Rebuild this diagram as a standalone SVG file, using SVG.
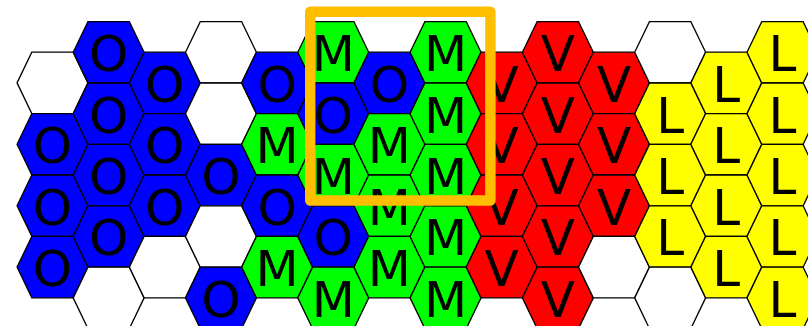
<svg xmlns="http://www.w3.org/2000/svg" xmlns:xlink="http://www.w3.org/1999/xlink" width="808" height="326" viewBox="0 0 808 326">
<style>
.h{stroke:#000;stroke-width:1.3;stroke-linejoin:miter}
.w{fill:#fff}.b{fill:#0000ff}.g{fill:#00ff00}.r{fill:#ff0000}.y{fill:#ffff00}
text{font-family:"DejaVu Sans",Verdana,sans-serif;font-size:50px;fill:#000;text-anchor:middle}
.box{fill:none;stroke:#ffbf00;stroke-width:10.4;stroke-linejoin:round}
</style>
<defs>
<polygon id="hex" class="h" points="-35.45,0 -20.7,-30.7 20.7,-30.7 35.45,0 20.7,30.7 -20.7,30.7"/>
</defs>
<rect width="808" height="326" fill="#fff"/>
<g id="nodes">
<g id="c0r0"><use href="#hex" x="52.5" y="82.9" class="w"/></g>
<g id="c0r1"><use href="#hex" x="52.5" y="144.3" class="b"/><text x="52.5" y="163.1">O</text></g>
<g id="c0r2"><use href="#hex" x="52.5" y="205.7" class="b"/><text x="52.5" y="224.5">O</text></g>
<g id="c0r3"><use href="#hex" x="52.5" y="267.1" class="b"/><text x="52.5" y="285.9">O</text></g>

<g id="c1r0"><use href="#hex" x="108.65" y="52.3" class="b"/><text x="108.65" y="71.1">O</text></g>
<g id="c1r1"><use href="#hex" x="108.65" y="113.7" class="b"/><text x="108.65" y="132.5">O</text></g>
<g id="c1r2"><use href="#hex" x="108.65" y="175.1" class="b"/><text x="108.65" y="193.9">O</text></g>
<g id="c1r3"><use href="#hex" x="108.65" y="236.5" class="b"/><text x="108.65" y="255.3">O</text></g>
<g id="c1r4"><use href="#hex" x="108.65" y="297.9" class="w"/></g>

<g id="c2r0"><use href="#hex" x="164.8" y="82.9" class="b"/><text x="164.8" y="101.7">O</text></g>
<g id="c2r1"><use href="#hex" x="164.8" y="144.3" class="b"/><text x="164.8" y="163.1">O</text></g>
<g id="c2r2"><use href="#hex" x="164.8" y="205.7" class="b"/><text x="164.8" y="224.5">O</text></g>
<g id="c2r3"><use href="#hex" x="164.8" y="267.1" class="w"/></g>

<g id="c3r0"><use href="#hex" x="220.95" y="52.3" class="w"/></g>
<g id="c3r1"><use href="#hex" x="220.95" y="113.7" class="w"/></g>
<g id="c3r2"><use href="#hex" x="220.95" y="175.1" class="b"/><text x="220.95" y="193.9">O</text></g>
<g id="c3r3"><use href="#hex" x="220.95" y="236.5" class="w"/></g>
<g id="c3r4"><use href="#hex" x="220.95" y="297.9" class="b"/><text x="220.95" y="316.7">O</text></g>

<g id="c4r0"><use href="#hex" x="277.1" y="82.9" class="b"/><text x="277.1" y="101.7">O</text></g>
<g id="c4r1"><use href="#hex" x="277.1" y="144.3" class="g"/><text x="277.1" y="163.1">M</text></g>
<g id="c4r2"><use href="#hex" x="277.1" y="205.7" class="b"/><text x="277.1" y="224.5">O</text></g>
<g id="c4r3"><use href="#hex" x="277.1" y="267.1" class="g"/><text x="277.1" y="285.9">M</text></g>

<g id="c5r0"><use href="#hex" x="333.25" y="52.3" class="g"/><text x="333.25" y="71.1">M</text></g>
<g id="c5r1"><use href="#hex" x="333.25" y="113.7" class="b"/><text x="333.25" y="132.5">O</text></g>
<g id="c5r2"><use href="#hex" x="333.25" y="175.1" class="g"/><text x="333.25" y="193.9">M</text></g>
<g id="c5r3"><use href="#hex" x="333.25" y="236.5" class="b"/><text x="333.25" y="255.3">O</text></g>
<g id="c5r4"><use href="#hex" x="333.25" y="297.9" class="g"/><text x="333.25" y="316.7">M</text></g>

<g id="c6r0"><use href="#hex" x="389.4" y="82.9" class="b"/><text x="389.4" y="101.7">O</text></g>
<g id="c6r1"><use href="#hex" x="389.4" y="144.3" class="g"/><text x="389.4" y="163.1">M</text></g>
<g id="c6r2"><use href="#hex" x="389.4" y="205.7" class="g"/><text x="389.4" y="224.5">M</text></g>
<g id="c6r3"><use href="#hex" x="389.4" y="267.1" class="g"/><text x="389.4" y="285.9">M</text></g>

<g id="c7r0"><use href="#hex" x="445.55" y="52.3" class="g"/><text x="445.55" y="71.1">M</text></g>
<g id="c7r1"><use href="#hex" x="445.55" y="113.7" class="g"/><text x="445.55" y="132.5">M</text></g>
<g id="c7r2"><use href="#hex" x="445.55" y="175.1" class="g"/><text x="445.55" y="193.9">M</text></g>
<g id="c7r3"><use href="#hex" x="445.55" y="236.5" class="g"/><text x="445.55" y="255.3">M</text></g>
<g id="c7r4"><use href="#hex" x="445.55" y="297.9" class="g"/><text x="445.55" y="316.7">M</text></g>

<g id="c8r0"><use href="#hex" x="501.7" y="82.9" class="r"/><text x="501.7" y="101.7">V</text></g>
<g id="c8r1"><use href="#hex" x="501.7" y="144.3" class="r"/><text x="501.7" y="163.1">V</text></g>
<g id="c8r2"><use href="#hex" x="501.7" y="205.7" class="r"/><text x="501.7" y="224.5">V</text></g>
<g id="c8r3"><use href="#hex" x="501.7" y="267.1" class="r"/><text x="501.7" y="285.9">V</text></g>

<g id="c9r0"><use href="#hex" x="557.85" y="52.3" class="r"/><text x="557.85" y="71.1">V</text></g>
<g id="c9r1"><use href="#hex" x="557.85" y="113.7" class="r"/><text x="557.85" y="132.5">V</text></g>
<g id="c9r2"><use href="#hex" x="557.85" y="175.1" class="r"/><text x="557.85" y="193.9">V</text></g>
<g id="c9r3"><use href="#hex" x="557.85" y="236.5" class="r"/><text x="557.85" y="255.3">V</text></g>
<g id="c9r4"><use href="#hex" x="557.85" y="297.9" class="r"/><text x="557.85" y="316.7">V</text></g>

<g id="c10r0"><use href="#hex" x="614" y="82.9" class="r"/><text x="614" y="101.7">V</text></g>
<g id="c10r1"><use href="#hex" x="614" y="144.3" class="r"/><text x="614" y="163.1">V</text></g>
<g id="c10r2"><use href="#hex" x="614" y="205.7" class="r"/><text x="614" y="224.5">V</text></g>
<g id="c10r3"><use href="#hex" x="614" y="267.1" class="w"/></g>

<g id="c11r0"><use href="#hex" x="670.15" y="52.3" class="w"/></g>
<g id="c11r1"><use href="#hex" x="670.15" y="113.7" class="y"/><text x="670.15" y="132.5">L</text></g>
<g id="c11r2"><use href="#hex" x="670.15" y="175.1" class="y"/><text x="670.15" y="193.9">L</text></g>
<g id="c11r3"><use href="#hex" x="670.15" y="236.5" class="y"/><text x="670.15" y="255.3">L</text></g>
<g id="c11r4"><use href="#hex" x="670.15" y="297.9" class="w"/></g>

<g id="c12r0"><use href="#hex" x="726.3" y="82.9" class="y"/><text x="726.3" y="101.7">L</text></g>
<g id="c12r1"><use href="#hex" x="726.3" y="144.3" class="y"/><text x="726.3" y="163.1">L</text></g>
<g id="c12r2"><use href="#hex" x="726.3" y="205.7" class="y"/><text x="726.3" y="224.5">L</text></g>
<g id="c12r3"><use href="#hex" x="726.3" y="267.1" class="y"/><text x="726.3" y="285.9">L</text></g>

<g id="c13r0"><use href="#hex" x="782.45" y="52.3" class="y"/><text x="782.45" y="71.1">L</text></g>
<g id="c13r1"><use href="#hex" x="782.45" y="113.7" class="y"/><text x="782.45" y="132.5">L</text></g>
<g id="c13r2"><use href="#hex" x="782.45" y="175.1" class="y"/><text x="782.45" y="193.9">L</text></g>
<g id="c13r3"><use href="#hex" x="782.45" y="236.5" class="y"/><text x="782.45" y="255.3">L</text></g>
<g id="c13r4"><use href="#hex" x="782.45" y="297.9" class="y"/><text x="782.45" y="316.7">L</text></g>
</g>
<g id="connectors"></g>
<g id="highlight"><rect class="box" x="310.2" y="11.7" width="180.2" height="188.8"/></g>
</svg>
